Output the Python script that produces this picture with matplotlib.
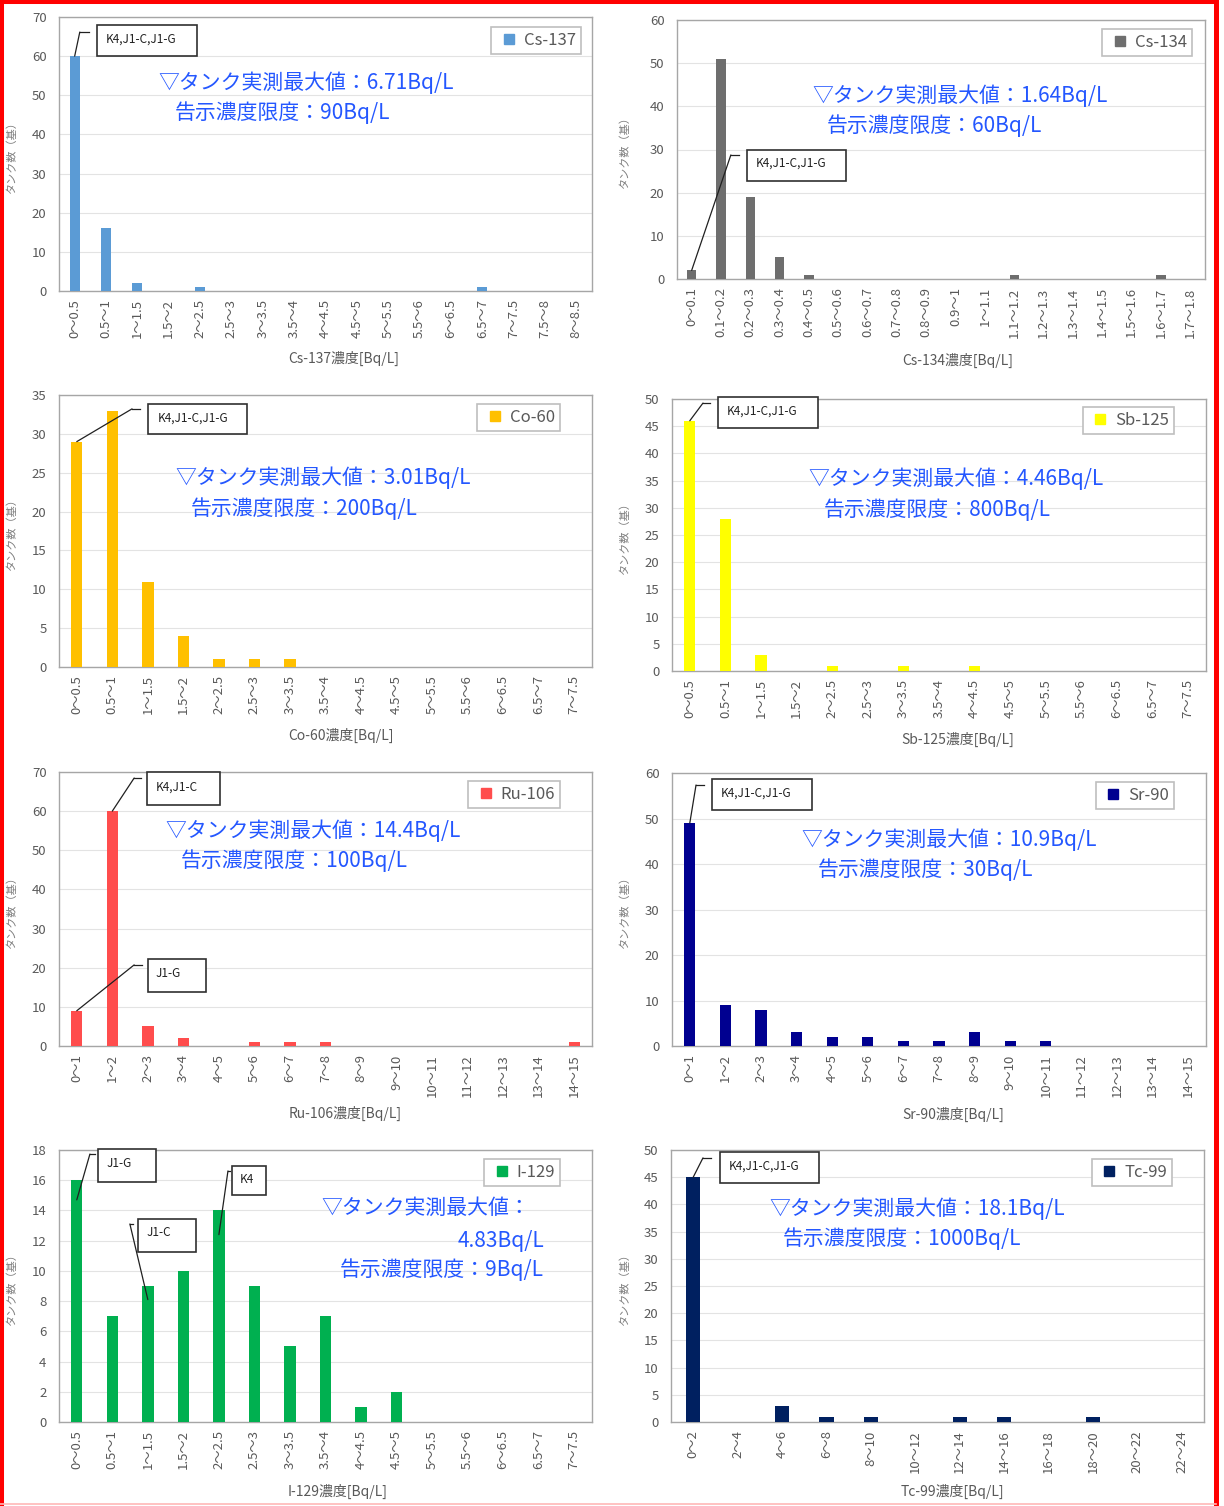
import matplotlib
matplotlib.use('Agg')
import matplotlib.pyplot as plt
from matplotlib.patches import Rectangle
from matplotlib.lines import Line2D

plt.rcParams['font.family'] = ['Noto Sans CJK JP', 'DejaVu Sans']

# ---- data (tank counts per concentration bin) ----
cs137_bins = ['0～0.5', '0.5～1', '1～1.5', '1.5～2', '2～2.5', '2.5～3', '3～3.5', '3.5～4',
              '4～4.5', '4.5～5', '5～5.5', '5.5～6', '6～6.5', '6.5～7', '7～7.5', '7.5～8', '8～8.5']
cs137_counts = [60, 16, 2, 0, 1, 0, 0, 0, 0, 0, 0, 0, 0, 1, 0, 0, 0]

cs134_bins = ['0～0.1', '0.1～0.2', '0.2～0.3', '0.3～0.4', '0.4～0.5', '0.5～0.6', '0.6～0.7',
              '0.7～0.8', '0.8～0.9', '0.9～1', '1～1.1', '1.1～1.2', '1.2～1.3', '1.3～1.4',
              '1.4～1.5', '1.5～1.6', '1.6～1.7', '1.7～1.8']
cs134_counts = [2, 51, 19, 5, 1, 0, 0, 0, 0, 0, 0, 1, 0, 0, 0, 0, 1, 0]

half_bins = ['0～0.5', '0.5～1', '1～1.5', '1.5～2', '2～2.5', '2.5～3', '3～3.5', '3.5～4',
             '4～4.5', '4.5～5', '5～5.5', '5.5～6', '6～6.5', '6.5～7', '7～7.5']
co60_counts = [29, 33, 11, 4, 1, 1, 1, 0, 0, 0, 0, 0, 0, 0, 0]
sb125_counts = [46, 28, 3, 0, 1, 0, 1, 0, 1, 0, 0, 0, 0, 0, 0]
i129_counts = [16, 7, 9, 10, 14, 9, 5, 7, 1, 2, 0, 0, 0, 0, 0]

unit_bins = ['0～1', '1～2', '2～3', '3～4', '4～5', '5～6', '6～7', '7～8', '8～9', '9～10',
             '10～11', '11～12', '12～13', '13～14', '14～15']
ru106_counts = [9, 60, 5, 2, 0, 1, 1, 1, 0, 0, 0, 0, 0, 0, 1]
sr90_counts = [49, 9, 8, 3, 2, 2, 1, 1, 3, 1, 1, 0, 0, 0, 0]

tc99_bins = ['0～2', '2～4', '4～6', '6～8', '8～10', '10～12', '12～14', '14～16', '16～18',
             '18～20', '20～22', '22～24']
tc99_counts = [45, 0, 3, 1, 1, 0, 1, 1, 0, 1, 0, 0]

nuclides = ['Cs-137', 'Cs-134', 'Co-60', 'Sb-125', 'Ru-106', 'Sr-90', 'I-129', 'Tc-99']
max_values = ['6.71', '1.64', '3.01', '4.46', '14.4', '10.9', '4.83', '18.1']
limits = ['90', '60', '200', '800', '100', '30', '9', '1000']
ymaxes = [70, 60, 35, 50, 70, 60, 18, 50]
ysteps = [10, 10, 5, 5, 10, 10, 2, 5]
colors = ['#5B9BD5', '#6E6E6E', '#FFC000', '#FFFF00', '#FF4D4D', '#000090', '#00B050', '#002060']
bins_list = [cs137_bins, cs134_bins, half_bins, half_bins, unit_bins, unit_bins, half_bins, tc99_bins]
counts_list = [cs137_counts, cs134_counts, co60_counts, sb125_counts, ru106_counts,
               sr90_counts, i129_counts, tc99_counts]

# ---- layout (pixels of a 1224x1506 canvas) ----
W, H = 1224, 1506
rects = [(59, 17, 592, 291), (677, 20, 1205, 279),
         (59, 395, 592, 667), (672, 399, 1206, 671),
         (59, 772, 592, 1046), (672, 773, 1206, 1046),
         (59, 1150, 592, 1422), (671, 1150, 1204, 1422)]
ylabel_x = [17, 630, 17, 630, 17, 630, 17, 630]
xlabel_px = [(344, 358), (958, 360), (341, 735), (958, 739),
             (345, 1113), (953, 1114), (338, 1491), (952, 1491)]
legend_anchor = [(0.979, 0.963), (0.975, 0.965), (0.940, 0.967), (0.940, 0.971),
                 (0.940, 0.967), (0.940, 0.967), (0.940, 0.967), (0.940, 0.967)]
# blue note lines: (fx, fy) of line 1 and line 2 (left aligned)
note_pos = [((0.186, 0.759), (0.218, 0.650)), ((0.256, 0.707), (0.284, 0.591)),
            ((0.218, 0.695), (0.248, 0.581)), ((0.255, 0.706), (0.285, 0.592)),
            ((0.199, 0.785), (0.229, 0.675)), ((0.243, 0.755), (0.272, 0.645)),
            None, ((0.184, 0.783), (0.210, 0.673))]

# callouts: label, bar index, anchor y, elbow (fx, fy), elbow end fx, box (fx0, fy0, fx1, fy1), text (fx, fy)
callouts = [
    [('K4,J1-C,J1-G', 0, 60, (0.039, 0.945), 0.056, (0.071, 0.858, 0.259, 0.971), (0.088, 0.92))],
    [('K4,J1-C,J1-G', 0, 2, (0.102, 0.479), 0.117, (0.133, 0.378, 0.320, 0.498), (0.150, 0.448))],
    [('K4,J1-C,J1-G', 0, 29, (0.137, 0.949), 0.152, (0.167, 0.856, 0.353, 0.967), (0.186, 0.915))],
    [('K4,J1-C,J1-G', 0, 46, (0.058, 0.985), 0.071, (0.086, 0.893, 0.273, 1.007), (0.103, 0.956))],
    [('K4,J1-C', 1, 60, (0.141, 0.978), 0.154, (0.165, 0.880, 0.302, 1.000), (0.182, 0.945)),
     ('J1-G', 0, 9, (0.141, 0.296), 0.156, (0.167, 0.197, 0.276, 0.318), (0.182, 0.266))],
    [('K4,J1-C,J1-G', 0, 49, (0.045, 0.956), 0.060, (0.075, 0.864, 0.262, 0.978), (0.092, 0.927))],
    [('J1-G', 0, 14.7, (0.058, 0.985), 0.068, (0.073, 0.882, 0.182, 1.004), (0.090, 0.952)),
     ('J1-C', 2, 8.1, (0.133, 0.728), 0.139, (0.148, 0.625, 0.257, 0.746), (0.165, 0.695)),
     ('K4', 4, 12.4, (0.317, 0.923), 0.320, (0.325, 0.835, 0.388, 0.941), (0.340, 0.893))],
    [('K4,J1-C,J1-G', 0, 45, (0.060, 0.971), 0.075, (0.092, 0.879, 0.278, 0.993), (0.109, 0.941))],
]

BLUE = '#2457FF'
GRAY = '#595959'

fig = plt.figure(figsize=(W / 100, H / 100), dpi=100)

for k in range(8):
    L, T, R, B = rects[k]
    ax = fig.add_axes([L / W, 1 - B / H, (R - L) / W, (B - T) / H])
    bins = bins_list[k]
    counts = counts_list[k]
    x = list(range(len(bins)))
    ax.bar(x, counts, width=0.32, color=colors[k], label=nuclides[k], zorder=3)
    ax.set_xlim(-0.5, len(bins) - 0.5)
    ax.set_ylim(0, ymaxes[k])
    ax.set_yticks(range(0, ymaxes[k] + 1, ysteps[k]))
    ax.set_xticks(x)
    ax.set_xticklabels(bins, rotation=90, va='top')
    ax.tick_params(axis='both', length=0, labelsize=9.5, labelcolor=GRAY)
    ax.tick_params(axis='y', pad=9)
    ax.tick_params(axis='x', pad=6)
    ax.grid(axis='y', color='#E3E3E3', lw=0.8, zorder=0)
    for s in ax.spines.values():
        s.set_color('#A6A6A6')
        s.set_linewidth(1.0)

    ax.set_ylabel('タンク数（基）', fontsize=8, color='#7F7F7F')
    ax.yaxis.set_label_coords((ylabel_x[k] - L) / (R - L), 0.5)
    xl, yl = xlabel_px[k]
    ax.set_xlabel(nuclides[k] + '濃度[Bq/L]', fontsize=10, color=GRAY, va='center')
    ax.xaxis.set_label_coords((xl - L) / (R - L), (B - yl) / (B - T))

    handle = Line2D([], [], marker='s', ls='none', color=colors[k], markersize=7.5)
    leg = ax.legend([handle], [nuclides[k]], loc='upper right', bbox_to_anchor=legend_anchor[k],
                    fontsize=12, frameon=True, fancybox=False, edgecolor='#BFBFBF',
                    framealpha=1, handlelength=1.5, handletextpad=0.15,
                    borderpad=0.3, borderaxespad=0)
    leg.get_frame().set_linewidth(1.2)
    for t in leg.get_texts():
        t.set_color(GRAY)

    max_line = '▽タンク実測最大値：' + max_values[k] + 'Bq/L'
    lim_line = '告示濃度限度：' + limits[k] + 'Bq/L'
    if note_pos[k] is not None:
        (x1, y1), (x2, y2) = note_pos[k]
        ax.text(x1, y1, max_line, transform=ax.transAxes, fontsize=15, color=BLUE,
                ha='left', va='center', zorder=6)
        ax.text(x2, y2, lim_line, transform=ax.transAxes, fontsize=15, color=BLUE,
                ha='left', va='center', zorder=6)
    else:
        ax.text(0.492, 0.787, '▽タンク実測最大値：', transform=ax.transAxes, fontsize=15,
                color=BLUE, ha='left', va='center', zorder=6)
        ax.text(0.910, 0.665, max_values[k] + 'Bq/L', transform=ax.transAxes, fontsize=15,
                color=BLUE, ha='right', va='center', zorder=6)
        ax.text(0.910, 0.559, lim_line, transform=ax.transAxes, fontsize=15,
                color=BLUE, ha='right', va='center', zorder=6)

    for label, bi, ay, (ex, ey), ex2, (bx0, by0, bx1, by1), (tx, ty) in callouts[k]:
        ax.annotate('', xy=(bi, ay), xycoords='data', xytext=(ex, ey), textcoords='axes fraction',
                    arrowprops=dict(arrowstyle='-', lw=0.9, color='#202020',
                                    shrinkA=0, shrinkB=0), zorder=7, annotation_clip=False)
        ax.add_line(Line2D([ex, ex2], [ey, ey], transform=ax.transAxes, lw=0.9,
                           color='#202020', zorder=7, clip_on=False))
        ax.add_patch(Rectangle((bx0, by0), bx1 - bx0, by1 - by0, transform=ax.transAxes,
                               facecolor='white', edgecolor='#303030', lw=1.2,
                               zorder=7, clip_on=False))
        ax.text(tx, ty, label, transform=ax.transAxes, fontsize=8.5, color='#202020',
                ha='left', va='center', zorder=8)

# outer red frame
fig.add_artist(Line2D([2 / W, 2 / W], [0, 1], transform=fig.transFigure, color='red', lw=2.9))
fig.add_artist(Line2D([0, 1215.5 / W], [1 - 2 / H, 1 - 2 / H], transform=fig.transFigure,
                      color='red', lw=2.9))
fig.add_artist(Line2D([1215.5 / W, 1215.5 / W], [0, 1], transform=fig.transFigure,
                      color='red', lw=3.6))
fig.add_artist(Line2D([0, 1215.5 / W], [1 - 1503.5 / H, 1 - 1503.5 / H],
                      transform=fig.transFigure, color='#FFB8B8', lw=1.2))

fig.savefig('out.png', dpi=100, facecolor='white')
